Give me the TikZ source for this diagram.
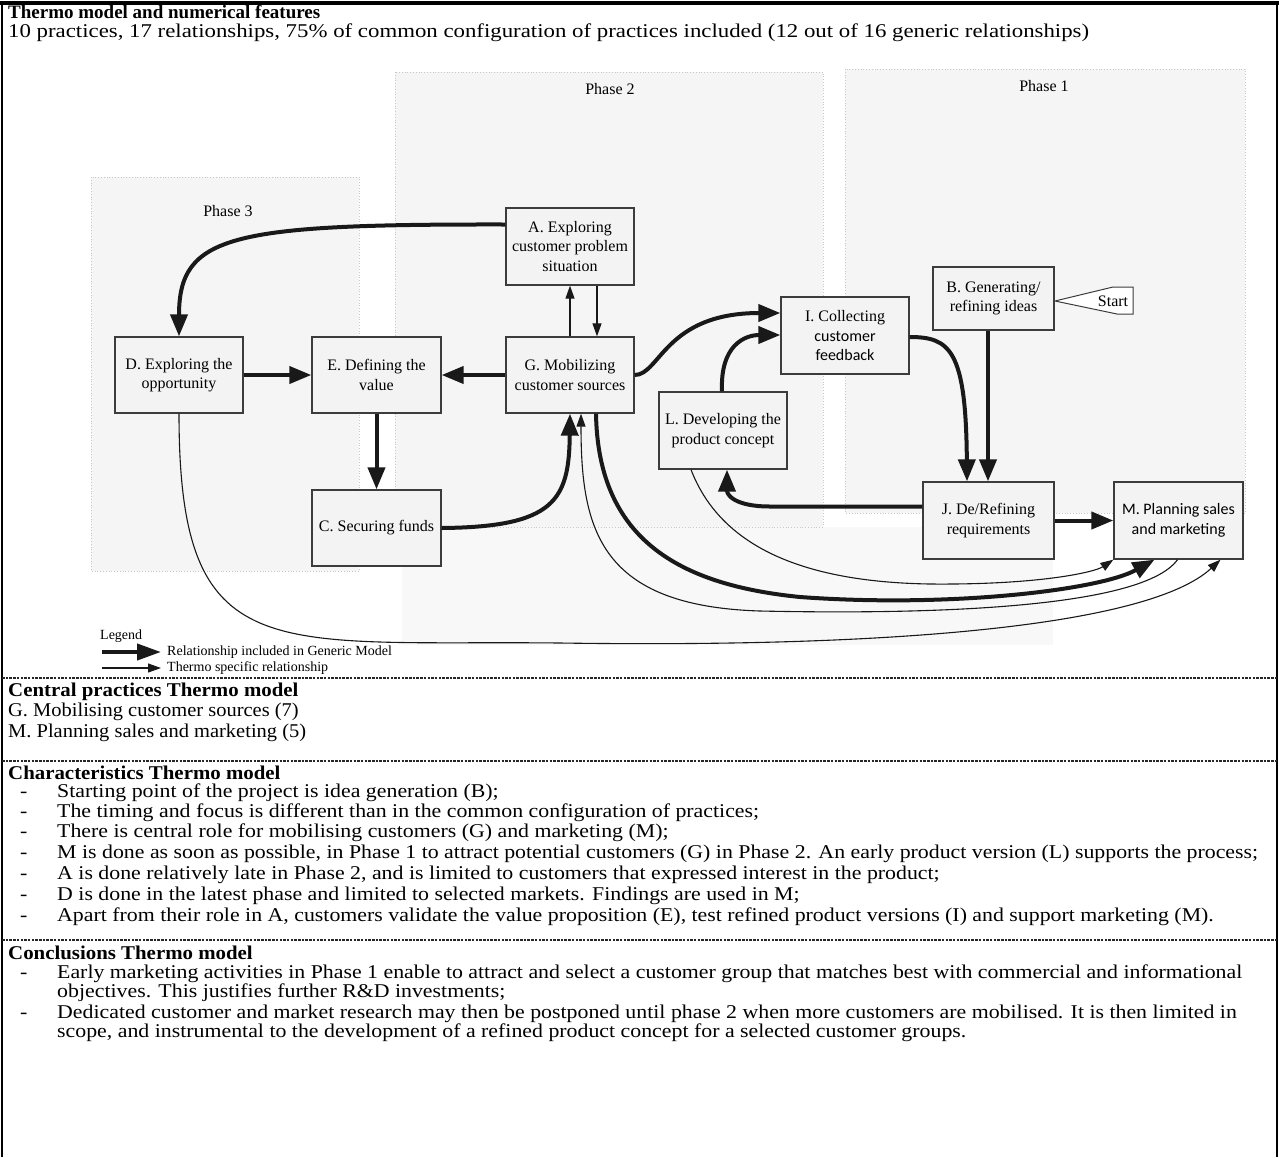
\documentclass[tikz,border=0pt]{standalone}
\usepackage{fontspec}
\setmainfont{Liberation Serif}
\newfontfamily\calfont{Carlito}
\newfontfamily\listfont[FakeStretch=1.12]{Liberation Serif}
\newfontfamily\cenfont[FakeStretch=1.05]{Liberation Serif}
\newfontfamily\hdrfont[FakeStretch=1.07]{Liberation Serif}
\newfontfamily\subfont[FakeStretch=1.17]{Liberation Serif}
\usetikzlibrary{arrows.meta,calc}
\definecolor{boxfill}{RGB}{242,243,242}
\definecolor{boxline}{RGB}{60,60,60}
\definecolor{phasefill}{RGB}{245,245,245}
\definecolor{phaseedge}{RGB}{200,200,200}
\begin{document}
\begin{tikzpicture}[x=1pt,y=-1pt,
  box/.style={draw=boxline, line width=1.3pt, fill=boxfill, inner sep=0pt, align=center,
    font=\fontsize{16}{19.5}\selectfont, minimum width=128pt, minimum height=77pt},
  gen/.style={draw=black!90, line width=4pt, -{Triangle[length=22pt,width=17pt]}},
  spec/.style={draw=black!90, line width=1.1pt, -{Triangle[length=13pt,width=9pt]}},
  phase/.style={fill=phasefill, draw=phaseedge, dotted, line width=0.8pt},
  plabel/.style={font=\fontsize{16}{19}\selectfont, inner sep=0pt},
  ltxt/.style={anchor=base west, inner sep=0pt, font=\listfont\fontsize{19.5}{21}\selectfont},
  ctxt/.style={anchor=base west, inner sep=0pt, font=\cenfont\fontsize{19.5}{21}\selectfont},
  hdr/.style={anchor=base west, inner sep=0pt, font=\hdrfont\fontsize{19.5}{21}\selectfont\bfseries},
  sepline/.style={line width=1.2pt, dash pattern=on 2.5pt off 1.2pt, black!85},
  lgd/.style={anchor=west, inner sep=0pt, font=\fontsize{14}{16}\selectfont},
]
\useasboundingbox (0,0) rectangle (1279,1157);
\fill[white] (0,0) rectangle (1279,1157);

% phase backgrounds
\fill[phasefill!70!white] (402,527) rectangle (1053,645);
\draw[phase] (91,177) rectangle (359,571);
\draw[phase] (395,72) rectangle (823,527);
\draw[phase] (845,69) rectangle (1245,513);
\node[plabel] (p3) at (228,211) {Phase 3};
\node[plabel] (p2) at (610,89) {Phase 2};
\node[plabel] (p1) at (1044,86) {Phase 1};

% boxes
\node[box] (A) at (570,246.5) {A. Exploring\\customer problem\\situation};
\node[box, minimum height=76pt] (D) at (179,375) {D. Exploring the\\opportunity};
\node[box, minimum width=129pt, minimum height=76pt] (E) at (376.5,375) {E. Defining the\\value};
\node[box, minimum height=76pt] (G) at (570,375) {G. Mobilizing\\customer sources};
\node[box, minimum width=129pt, minimum height=76pt] (C) at (376.5,528) {C. Securing funds};
\node[box] (I) at (845,335.5) {I. Collecting\\{\calfont customer}\\{\calfont feedback}};
\node[box] (L) at (723,430.5) {L. Developing the\\product concept};
\node[box, minimum width=121pt, minimum height=63pt] (B) at (993.5,298.5) {B. Generating/\\refining ideas};
\node[box, minimum width=131pt] (J) at (988.5,520.5) {J. De/Refining\\requirements};
\node[box, minimum width=129pt, font=\calfont\fontsize{16}{19.5}\selectfont] (M) at (1178.5,520.5) {M. Planning sales\\and marketing};

% start marker
\draw[draw=boxline, line width=1pt, fill=white] (1055,301) -- (1113,287) -- (1133,287) -- (1133,314) -- (1117,314) -- cycle;
\node[plabel] (start) at (1113,301) {Start};

% generic relationships
\draw[gen] ($(A.west)+(0,-22)$) .. controls (230,224) and (179,235) .. (D.north);
\draw[gen] (D.east) -- (E.west);
\draw[gen] (G.west) -- (E.east);
\draw[gen] (E.south) -- (C.north);
\draw[gen] (C.east) .. controls (555,527) and (569,500) .. (G.south);
\draw[gen] ($(G.south)+(26,0)$) .. controls (598,540) and (680,585) .. (800,597) .. controls (950,608) and (1100,590) .. ($(M.south)+(-24,0)$);
\draw[gen] (J.east) -- (M.west);
\draw[gen] ($(J.west)+(0,-14)$) -- (770,506.5) .. controls (735,506.5) and (727,495) .. ($(L.south)+(4,0)$);
\draw[gen] ($(I.east)+(0,1.5)$) .. controls (950,337) and (966,350) .. ($(J.north)+(-21.5,0)$);
\draw[gen] ($(B.south)+(-5.5,0)$) -- ($(J.north)+(-0.5,0)$);
\draw[gen] ($(L.north)+(-1,0)$) .. controls (720,345) and (745,335) .. ($(I.west)+(0,-0.5)$);
\draw[gen] (G.east) .. controls (660,375) and (665,313) .. ($(I.west)+(0,-22.5)$);

% Thermo specific relationships
\draw[spec] (G.north) -- (A.south);
\draw[spec] ($(A.south)+(27,0)$) -- ($(G.north)+(27,0)$);
\draw[spec] ($(M.south)+(-1,0)$) .. controls (1140,612) and (900,614) .. (760,611) .. controls (600,606) and (581,530) .. ($(G.south)+(11,0)$);
\draw[spec] ($(L.south)+(-32,0)$) .. controls (720,545) and (800,582) .. (930,584) .. controls (1040,585) and (1095,572) .. (M.south west);
\draw[spec] (D.south) .. controls (179,670) and (270,640) .. (560,643) .. controls (900,648) and (1150,625) .. ($(M.south)+(42,0)$);

% legend
\node[lgd] (lg) at (100,636) {Legend};
\coordinate (lg1s) at (102,652);
\coordinate (lg1e) at (161,652);
\coordinate (lg2s) at (102,668);
\coordinate (lg2e) at (161,668);
\draw[gen, -{Triangle[length=24pt,width=16pt]}] (lg1s) -- (lg1e);
\draw[spec] (lg2s) -- (lg2e);
\node[lgd] (lgt1) at (167,652) {Relationship included in Generic Model};
\node[lgd] (lgt2) at (167,668) {Thermo specific relationship};

% frame
\draw[line width=2pt] (2,1157) -- (2,3) -- (1277,3) -- (1277,1157);
\draw[line width=4pt] (0,3) -- (1279,3);

% separators
\draw[sepline] (2,678) -- (1277,678);
\draw[sepline] (2,761) -- (1277,761);
\draw[sepline] (2,940) -- (1277,940);

% header texts
\node[hdr, font=\fontsize{19}{21}\selectfont\bfseries] (h1) at (8,18) {Thermo model and numerical features};
\node[ltxt, font=\subfont\fontsize{19.5}{21}\selectfont] (h1b) at (8,37) {10 practices, 17 relationships, 75\% of common configuration of practices included (12 out of 16 generic relationships)};

\node[hdr] (h2) at (8,696) {Central practices Thermo model};
\node[ctxt] (h2a) at (8,716) {G. Mobilising customer sources (7)};
\node[ctxt] (h2b) at (8,737) {M. Planning sales and marketing (5)};

\node[hdr] (h3) at (8,779) {Characteristics Thermo model};
\foreach \yy/\tx [count=\k] in {
  797/{Starting point of the project is idea generation (B);},
  817/{The timing and focus is different than in the common configuration of practices;},
  837/{There is central role for mobilising customers (G) and marketing (M);},
  858/{M is done as soon as possible, in Phase 1 to attract potential customers (G) in Phase 2. An early product version (L) supports the process;},
  879/{A is done relatively late in Phase 2, and is limited to customers that expressed interest in the product;},
  900/{D is done in the latest phase and limited to selected markets. Findings are used in M;},
  921/{Apart from their role in A, customers validate the value proposition (E), test refined product versions (I) and support marketing (M).}} {
  \node[ltxt] (cd\k) at (20,\yy) {-};
  \node[ltxt] (ct\k) at (57,\yy) {\tx};
}

\node[hdr] (h4) at (8,959) {Conclusions Thermo model};
\node[ltxt] (kd1) at (20,978) {-};
\node[ltxt] (kt1) at (57,978) {Early marketing activities in Phase 1 enable to attract and select a customer group that matches best with commercial and informational};
\node[ltxt] (kt1b) at (57,997) {objectives. This justifies further R\&D investments;};
\node[ltxt] (kd2) at (20,1018) {-};
\node[ltxt] (kt2) at (57,1018) {Dedicated customer and market research may then be postponed until phase 2 when more customers are mobilised. It is then limited in};
\node[ltxt] (kt2b) at (57,1037) {scope, and instrumental to the development of a refined product concept for a selected customer groups.};
\end{tikzpicture}
\end{document}
